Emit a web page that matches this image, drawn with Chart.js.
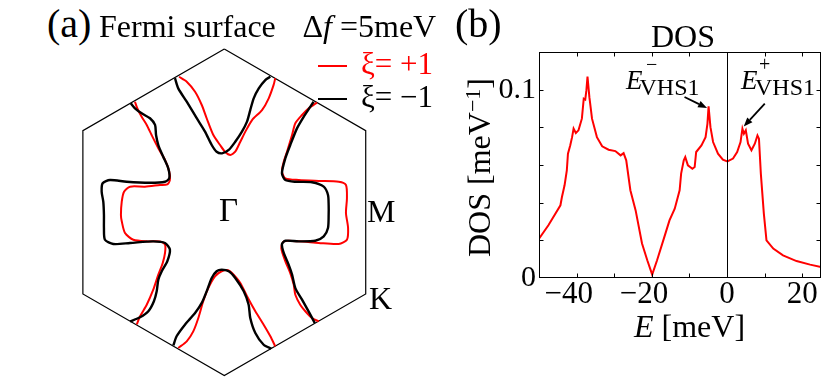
<!DOCTYPE html>
<html>
<head>
<meta charset="utf-8">
<script src="https://cdn.jsdelivr.net/npm/chart.js@4.4.1/dist/chart.umd.min.js"></script>
<style>
    html, body { margin: 0; padding: 0; background: #fff; }
    #page {
        position: relative; width: 822px; height: 377px; overflow: hidden;
        font-family: "Liberation Serif", "Times New Roman", serif; color: #000;
    }
    canvas { position: absolute; }
    #fermiCanvas { left: 69px; top: 46px; }
    #dosCanvas { left: 440px; top: 0; }
    .lbl { position: absolute; white-space: nowrap; }
    .key { position: absolute; height: 2.5px; width: 29px; left: 318px; }
</style>
</head>
<body>
<div id="page">
    <canvas id="fermiCanvas" width="311" height="333"></canvas>
    <canvas id="dosCanvas" width="382" height="377"></canvas>
    <div class="key" style="top:64.5px;background:#f00"></div>
    <div class="key" style="top:97.5px;background:#000"></div>
</div>
<script>
// ---------- Panel (a): Fermi surface, k in units of |ΓK| ----------
const hexagonK = [[0, 1], [0.866, 0.5], [0.866, -0.5], [0, -1], [-0.866, -0.5], [-0.866, 0.5], [0, 1]];

// xi = -1 (black)
const blackLeftLobe = [[-0.573, 0.668], [-0.547, 0.637], [-0.506, 0.606], [-0.455, 0.576], [-0.424, 0.535],
    [-0.418, 0.473], [-0.404, 0.412], [-0.374, 0.340], [-0.343, 0.269], [-0.337, 0.208], [-0.363, 0.187],
    [-0.455, 0.181], [-0.598, 0.187], [-0.700, 0.198], [-0.745, 0.178], [-0.751, 0.126], [-0.741, 0.065],
    [-0.737, -0.017], [-0.737, -0.096], [-0.731, -0.168], [-0.680, -0.194], [-0.577, -0.188], [-0.435, -0.178],
    [-0.363, -0.188], [-0.333, -0.229], [-0.349, -0.300], [-0.383, -0.361], [-0.404, -0.413], [-0.414, -0.484],
    [-0.431, -0.545], [-0.465, -0.606], [-0.516, -0.643], [-0.577, -0.668]];
const blackBottomNotch = [[-0.312, -0.815], [-0.292, -0.759], [-0.241, -0.688], [-0.179, -0.617], [-0.138, -0.555],
    [-0.108, -0.484], [-0.077, -0.402], [-0.047, -0.361], [-0.016, -0.352], [0.027, -0.361], [0.067, -0.402],
    [0.119, -0.484], [0.149, -0.566], [0.159, -0.647], [0.190, -0.739], [0.241, -0.811], [0.288, -0.835]];
const blackRightLobe = [[0.554, -0.678], [0.527, -0.627], [0.476, -0.535], [0.435, -0.464], [0.415, -0.382],
    [0.394, -0.321], [0.364, -0.249], [0.353, -0.194], [0.374, -0.174], [0.456, -0.178], [0.557, -0.174],
    [0.609, -0.147], [0.635, -0.096], [0.639, -0.015], [0.639, 0.045], [0.635, 0.106], [0.609, 0.157],
    [0.537, 0.184], [0.435, 0.187], [0.374, 0.198], [0.353, 0.239], [0.374, 0.331], [0.404, 0.412],
    [0.445, 0.514], [0.486, 0.585], [0.527, 0.647], [0.547, 0.677]];
const blackTopNotch = [[0.282, 0.830], [0.251, 0.810], [0.211, 0.759], [0.180, 0.698], [0.159, 0.626],
    [0.139, 0.555], [0.108, 0.494], [0.067, 0.432], [0.027, 0.382], [-0.014, 0.361], [-0.047, 0.371],
    [-0.077, 0.412], [-0.118, 0.494], [-0.169, 0.576], [-0.230, 0.677], [-0.282, 0.759], [-0.302, 0.821]];

// xi = +1 (red)
const redLeftLobe = [[-0.547, 0.677], [-0.533, 0.637], [-0.506, 0.585], [-0.475, 0.535], [-0.445, 0.473],
    [-0.404, 0.392], [-0.363, 0.320], [-0.337, 0.249], [-0.333, 0.198], [-0.349, 0.171], [-0.394, 0.167],
    [-0.486, 0.157], [-0.577, 0.157], [-0.614, 0.126], [-0.628, 0.065], [-0.633, -0.017], [-0.628, -0.055],
    [-0.608, -0.127], [-0.557, -0.168], [-0.475, -0.178], [-0.394, -0.178], [-0.363, -0.198], [-0.363, -0.249],
    [-0.377, -0.310], [-0.404, -0.382], [-0.435, -0.474], [-0.475, -0.566], [-0.516, -0.637], [-0.536, -0.687]];
const redBottomNotch = [[-0.282, -0.831], [-0.230, -0.790], [-0.190, -0.729], [-0.159, -0.647], [-0.129, -0.545],
    [-0.098, -0.464], [-0.057, -0.392], [-0.016, -0.361], [0.024, -0.355], [0.047, -0.372], [0.098, -0.433],
    [0.139, -0.514], [0.190, -0.606], [0.241, -0.688], [0.282, -0.759], [0.312, -0.821]];
const redRightLobe = [[0.578, -0.668], [0.537, -0.647], [0.496, -0.606], [0.465, -0.566], [0.435, -0.505],
    [0.425, -0.443], [0.404, -0.372], [0.374, -0.300], [0.349, -0.219], [0.364, -0.178], [0.456, -0.178],
    [0.578, -0.188], [0.701, -0.194], [0.751, -0.168], [0.758, -0.096], [0.745, -0.004], [0.751, 0.086],
    [0.745, 0.167], [0.701, 0.187], [0.578, 0.192], [0.456, 0.198], [0.374, 0.208], [0.353, 0.249],
    [0.364, 0.310], [0.384, 0.371], [0.415, 0.473], [0.435, 0.545], [0.476, 0.596], [0.517, 0.637], [0.568, 0.672]];
const redTopNotch = [[0.312, 0.821], [0.302, 0.780], [0.272, 0.698], [0.231, 0.626], [0.170, 0.565],
    [0.129, 0.494], [0.098, 0.432], [0.067, 0.371], [0.037, 0.351], [0.004, 0.371], [-0.026, 0.412],
    [-0.067, 0.473], [-0.108, 0.576], [-0.138, 0.657], [-0.179, 0.738], [-0.230, 0.800], [-0.277, 0.830]];

// ---------- Panel (b): density of states ----------
const dosEnergy = [
    -50.0, -47.5, -44.3, -43.9, -43.2, -42.6, -42.3, -41.7, -41.2, -40.8,
    -40.2, -39.5, -38.6, -38.1, -37.7, -37.4, -37.1, -36.6, -35.9, -34.6,
    -33.2, -31.5, -29.7, -28.3, -27.5, -26.8, -25.7, -24.3, -22.6, -21.2,
    -19.9, -18.6, -16.8, -15.3, -13.9, -12.6, -12.2, -11.5, -11.1, -10.4,
    -9.2, -8.6, -8.2, -6.8, -5.7, -5.2, -4.9, -4.4, -3.7, -2.4,
    -1.1, 0.1, 1.6, 2.7, 3.6, 4.1, 4.5, 5.0, 5.6, 6.5,
    7.4, 8.1, 8.5, 9.0, 9.8, 10.5, 12.3, 14.9, 18.5, 22.1, 25.0];
const dosValue = [
    0.0209, 0.0280, 0.0386, 0.0430, 0.0492, 0.0572, 0.0660, 0.0704, 0.0748, 0.0793,
    0.0770, 0.0784, 0.0846, 0.0952, 0.0947, 0.0996, 0.1070, 0.0960, 0.0846, 0.0748,
    0.0699, 0.0681, 0.0674, 0.0651, 0.0663, 0.0625, 0.0466, 0.0359, 0.0183, 0.0094,
    0.0018, 0.0094, 0.0209, 0.0306, 0.0368, 0.0466, 0.0554, 0.0625, 0.0642, 0.0598,
    0.0580, 0.0589, 0.0669, 0.0704, 0.0748, 0.0820, 0.0911, 0.0801, 0.0722, 0.0660,
    0.0628, 0.0619, 0.0634, 0.0669, 0.0722, 0.0793, 0.0766, 0.0784, 0.0713, 0.0678,
    0.0713, 0.0757, 0.0740, 0.0554, 0.0342, 0.0200, 0.0156, 0.0120, 0.0090, 0.0071, 0.0058];
const xTickValues = [-40, -30, -20, -10, 0, 10, 20];
const xLabelValues = [-40, -20, 0, 20];
const yTickValues = [0, 0.02, 0.04, 0.06, 0.08, 0.1];
const yLabelValues = [0, 0.1];
const fermiLevel = 0;
const vhsArrows = [
    { from: [-11.3, 0.0961], to: [-5.3, 0.0902] },
    { from: [10.05, 0.0926], to: [4.45, 0.0805] }
];

const FONT = '"Liberation Serif", "Times New Roman", serif';
const page = document.getElementById('page');

// Fermi panel geometry: Gamma position inside the canvas and pixels per |ΓK|
const GAMMA_X = 155.3, GAMMA_Y = 166.3, PX_PER_K = 163.3;

function curve(points, color, width, order) {
    return {
        data: points.map(([x, y]) => ({ x, y })),
        showLine: true,
        borderColor: color,
        borderWidth: width,
        pointRadius: 0,
        tension: 0.25,
        fill: false,
        order
    };
}

// Fermi surface chart
const fermiCanvas = document.getElementById('fermiCanvas');
new Chart(fermiCanvas, {
    type: 'scatter',
    data: {
        datasets: [
            curve(blackLeftLobe, '#000', 2.4, 1),
            curve(blackBottomNotch, '#000', 2.4, 1),
            curve(blackRightLobe, '#000', 2.4, 1),
            curve(blackTopNotch, '#000', 2.4, 1),
            curve(redLeftLobe, '#f00', 2, 2),
            curve(redBottomNotch, '#f00', 2, 2),
            curve(redRightLobe, '#f00', 2, 2),
            curve(redTopNotch, '#f00', 2, 2),
            Object.assign(curve(hexagonK, '#000', 1.2, 3), { tension: 0 })
        ]
    },
    options: {
        responsive: false,
        animation: false,
        devicePixelRatio: 1,
        layout: { padding: 0 },
        plugins: { legend: { display: false }, tooltip: { enabled: false } },
        scales: {
            x: {
                type: 'linear', display: false,
                min: -GAMMA_X / PX_PER_K,
                max: (fermiCanvas.width - GAMMA_X) / PX_PER_K
            },
            y: {
                type: 'linear', display: false,
                min: -(fermiCanvas.height - GAMMA_Y) / PX_PER_K,
                max: GAMMA_Y / PX_PER_K
            }
        }
    }
});

// Frame, inward ticks, E=0 line and VHS arrows for the DOS panel
const dosFramePlugin = {
    id: 'dosFrame',
    afterDraw(chart) {
        const { ctx, chartArea: a, scales: { x, y } } = chart;
        ctx.save();
        ctx.strokeStyle = '#000';
        ctx.lineWidth = 1;
        ctx.strokeRect(a.left + 0.5, a.top + 0.5, a.right - a.left - 1, a.bottom - a.top - 1);

        const tick = 4.5;
        ctx.beginPath();
        xTickValues.forEach(v => {
            const px = Math.round(x.getPixelForValue(v)) + 0.5;
            ctx.moveTo(px, a.bottom); ctx.lineTo(px, a.bottom - tick);
            ctx.moveTo(px, a.top); ctx.lineTo(px, a.top + tick);
        });
        yTickValues.filter(v => v > 0).forEach(v => {
            const py = Math.round(y.getPixelForValue(v)) + 0.5;
            ctx.moveTo(a.left, py); ctx.lineTo(a.left + tick, py);
            ctx.moveTo(a.right, py); ctx.lineTo(a.right - tick, py);
        });
        const zx = Math.round(x.getPixelForValue(fermiLevel)) + 0.5;
        ctx.moveTo(zx, a.top); ctx.lineTo(zx, a.bottom);
        ctx.stroke();

        // arrows
        ctx.fillStyle = '#000';
        ctx.lineWidth = 1.8;
        vhsArrows.forEach(({ from, to }) => {
            const x0 = x.getPixelForValue(from[0]), y0 = y.getPixelForValue(from[1]);
            const x1 = x.getPixelForValue(to[0]), y1 = y.getPixelForValue(to[1]);
            const ang = Math.atan2(y1 - y0, x1 - x0);
            const headLen = 9, headHalf = 3.5;
            const bx = x1 - headLen * Math.cos(ang), by = y1 - headLen * Math.sin(ang);
            ctx.beginPath();
            ctx.moveTo(x0, y0); ctx.lineTo(bx, by);
            ctx.stroke();
            ctx.beginPath();
            ctx.moveTo(x1, y1);
            ctx.lineTo(bx + headHalf * Math.sin(ang), by - headHalf * Math.cos(ang));
            ctx.lineTo(bx - headHalf * Math.sin(ang), by + headHalf * Math.cos(ang));
            ctx.closePath();
            ctx.fill();
        });
        ctx.restore();
    }
};

function formatEnergy(v) {
    if (!xLabelValues.includes(v)) return '';
    // minus hangs to the left of the centred digits
    return v < 0 ? '\u2212' + Math.abs(v) + '\u2002' : String(v);
}

new Chart(document.getElementById('dosCanvas'), {
    type: 'scatter',
    data: {
        datasets: [{
            data: dosEnergy.map((e, i) => ({ x: e, y: dosValue[i] })),
            showLine: true,
            borderColor: '#ff0000',
            borderWidth: 2,
            pointRadius: 0,
            tension: 0,
            fill: false
        }]
    },
    options: {
        responsive: false,
        animation: false,
        devicePixelRatio: 1,
        layout: { padding: { top: 52, right: 1, left: 0, bottom: 0 } },
        plugins: { legend: { display: false }, tooltip: { enabled: false } },
        scales: {
            x: {
                type: 'linear', min: -50, max: 25,
                grid: { display: false, drawTicks: false },
                border: { display: false },
                afterBuildTicks: scale => { scale.ticks = xTickValues.map(value => ({ value })); },
                afterFit: scale => { scale.height = 99; },
                ticks: {
                    autoSkip: false, maxRotation: 0, minRotation: 0, padding: -2,
                    color: '#000', font: { family: FONT, size: 31 },
                    callback: formatEnergy
                }
            },
            y: {
                type: 'linear', min: 0, max: 0.12,
                grid: { display: false, drawTicks: false },
                border: { display: false },
                afterBuildTicks: scale => { scale.ticks = yTickValues.map(value => ({ value })); },
                afterFit: scale => { scale.width = 99; },
                ticks: {
                    autoSkip: false, padding: 3,
                    color: '#000', font: { family: FONT, size: 30 },
                    callback: v => yLabelValues.some(l => Math.abs(l - v) < 1e-9) ? String(Math.round(v * 10) / 10) : ''
                }
            }
        }
    },
    plugins: [dosFramePlugin]
});

// ---------- Text labels ----------
const BASELINE = 0.8375; // Liberation Serif: baseline below top of a line-height:1 box

function addLabel(html, x, baseline, size, color) {
    const el = document.createElement('div');
    el.className = 'lbl';
    el.innerHTML = html;
    el.style.left = x + 'px';
    el.style.top = (baseline - BASELINE * size) + 'px';
    el.style.fontSize = size + 'px';
    el.style.lineHeight = size + 'px';
    if (color) el.style.color = color;
    page.appendChild(el);
    return el;
}

addLabel('(a)', 47, 37, 40);
addLabel('Fermi surface', 99, 36.7, 32);
addLabel('\u0394<i>f</i> =5meV', 302.5, 36.7, 32);
addLabel('\u03be= +1', 361, 73.5, 31, '#f00');
addLabel('\u03be= \u22121', 361, 106.5, 31);
addLabel('\u0393', 219, 221.7, 33);
addLabel('M', 367, 221.7, 32);
addLabel('K', 369, 308.3, 32);

addLabel('(b)', 455, 37, 40);
addLabel('DOS', 651, 46.7, 32);
addLabel('<i>E</i>', 626, 89.3, 27);
addLabel('\u2212', 646, 70.5, 20);
addLabel('VHS1', 639.5, 95, 24);
addLabel('<i>E</i>', 741, 89.3, 27);
addLabel('+', 759, 71, 20);
addLabel('VHS1', 755, 95, 24);
addLabel('<i>E</i> [meV]', 634, 336.7, 32);

// rotated y-axis title, baseline at x = 490, text starting at y = 257
const yTitle = addLabel('DOS [meV<span style="font-size:22px;position:relative;top:-10px">\u22121</span>]',
    490 - BASELINE * 32, 257 + BASELINE * 32, 32);
yTitle.style.top = '257px';
yTitle.style.transformOrigin = '0 0';
yTitle.style.transform = 'rotate(-90deg)';
</script>
</body>
</html>
